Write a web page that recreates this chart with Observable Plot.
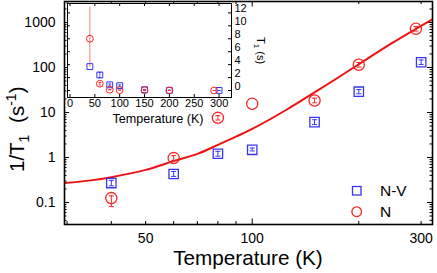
<!DOCTYPE html>
<html><head><meta charset="utf-8">
<script src="https://cdn.jsdelivr.net/npm/d3@7"></script>
<script src="https://cdn.jsdelivr.net/npm/@observablehq/plot@0.6"></script>
<style>
body{margin:0;background:#fff;}
#wrap{position:relative;width:437px;height:273px;overflow:hidden;}
#wrap svg{position:absolute;left:0;top:0;}
</style></head><body><div id="wrap"></div>
<script>
// ---- data ----
const nvTemps   = [40, 60, 80, 100, 150, 200, 300];
const nvRate    = [0.27, 0.43, 1.21, 1.48, 6.1, 29, 131];
const nvRateLo  = [0.235, 0.38, 1.07, 1.40, 5.4, 26, 117];
const nvRateHi  = [0.31, 0.49, 1.37, 1.62, 6.9, 32.5, 147];

const nTemps    = [40, 60, 80, 100, 150, 200, 290];
const nRate     = [0.125, 0.97, 7.6, 15.6, 18.5, 115, 724];
const nRateLo   = [0.081, 0.86, 6.8, null, 16.4, 102, 645];
const nRateHi   = [0.14, 1.10, 8.5, null, 20.8, 129, 810];

const fitTemps  = [29.5, 35, 40, 50, 60, 70, 80, 90, 100, 125, 150, 175, 200, 250, 290, 323];
const fitRate   = [0.27, 0.31, 0.365, 0.53, 0.83, 1.2, 1.9, 2.9, 4.3, 11.5, 28, 60, 118, 360, 725, 1180];

// inset: T1 (s)
const nvT1      = [3.7, 2.4, 0.88, 0.75, 0.12, 0.03, 0.01];
const nvT1Lo    = [3.1, 2.0, 0.72, 0.62, 0.08, 0.02, 0.005];
const nvT1Hi    = [4.4, 2.8, 1.02, 0.86, 0.16, 0.04, 0.015];
const nT1       = [8.0, 1.05, 0.13, 0.06, 0.05, 0.01, 0.0];
const nT1Lo     = [3.6, 0.85, 0.1, 0.05, 0.04, 0.008, 0.0];
const nT1Hi     = [12.9, 1.25, 0.16, 0.07, 0.06, 0.012, 0.002];

// tick labels
const xTickLabels = [50, 100, 300];
const yTickLabels = [0.1, 1, 10, 100, 1000];
const insetXTicks = [0, 50, 100, 150, 200, 250, 300];
const insetYTicks = [0, 2, 4, 6, 8, 10, 12];

// ---- style ----
const FONT = "Liberation Sans, Arial, Helvetica, sans-serif";
const BLUE = "#3535f2";
const RED = "#f52525";
const LINE_RED = "#ee1111";

const nv = nvTemps.map((T, i) => ({T, v: nvRate[i], lo: nvRateLo[i], hi: nvRateHi[i]}));
const nn = nTemps.map((T, i) => ({T, v: nRate[i], lo: nRateLo[i], hi: nRateHi[i]}));
const fit = fitTemps.map((T, i) => ({T, v: fitRate[i]}));
const nvIn = nvTemps.map((T, i) => ({T, v: nvT1[i], lo: nvT1Lo[i], hi: nvT1Hi[i]}));
const nnIn = nTemps.map((T, i) => ({T, v: nT1[i], lo: nT1Lo[i], hi: nT1Hi[i]}));

const cap = {draw(ctx, size) { const r = Math.sqrt(size / Math.PI); ctx.moveTo(-r, 0); ctx.lineTo(r, 0); }};

function errMarks(data, color, capR, sw) {
  const d = data.filter(p => p.lo != null);
  return [
    Plot.ruleX(d, {x: "T", y1: "lo", y2: "hi", stroke: color, strokeWidth: sw}),
    Plot.dot(d, {x: "T", y: "lo", symbol: cap, r: capR, stroke: color, strokeWidth: sw}),
    Plot.dot(d, {x: "T", y: "hi", symbol: cap, r: capR, stroke: color, strokeWidth: sw})
  ];
}

// ---- main chart ----
const W = 437, H = 273, mL = 64, mR = 5, mT = 1, mB = 49;
const iW = W - mL - mR, iH = H - mT - mB;
const yDom = [0.0324, 2930], xDom = [29.5, 323];
const yMinor = [];
for (let e = -2; e <= 3; e++) for (let m = 2; m <= 9; m++) { const v = m * 10 ** e; if (v > yDom[0] && v < yDom[1]) yMinor.push(+v.toPrecision(3)); }
const xMinor = [30, 40, 50, 60, 70, 80, 90, 200, 300];
const xMajor = [100];
const tk = {stroke: "black", strokeWidth: 1};

const main = Plot.plot({
  width: W, height: H, marginLeft: mL, marginRight: mR, marginTop: mT, marginBottom: mB,
  style: {fontFamily: FONT, background: "white"},
  x: {type: "log", domain: xDom, axis: null},
  y: {type: "log", domain: yDom, axis: null},
  marks: [
    Plot.ruleY(yMinor, {...tk, insetRight: iW - 2.5}),
    Plot.ruleY(yTickLabels, {...tk, insetRight: iW - 5}),
    Plot.ruleY(yMinor, {...tk, insetLeft: iW - 2.5}),
    Plot.ruleY(yTickLabels, {...tk, insetLeft: iW - 5}),
    Plot.ruleX(xMinor, {...tk, insetTop: iH - 3}),
    Plot.ruleX(xMajor, {...tk, insetTop: iH - 5.5}),
    Plot.ruleX(xMinor, {...tk, insetBottom: iH - 3}),
    Plot.ruleX(xMajor, {...tk, insetBottom: iH - 5.5}),
    Plot.text(yTickLabels, {x: null, y: d => d, text: d => String(d), frameAnchor: "left", textAnchor: "end", dx: -9, fontSize: 14, fill: "black"}),
    Plot.text(xTickLabels, {x: d => d, y: null, text: d => String(d), frameAnchor: "bottom", lineAnchor: "top", dy: 9, fontSize: 14, fill: "black"}),
    Plot.line(fit, {x: "T", y: "v", stroke: LINE_RED, strokeWidth: 2, curve: "catmull-rom", clip: true}),
    ...errMarks(nv, BLUE, 2.5, 1),
    ...errMarks(nn, RED, 2.5, 1),
    Plot.dot(nv, {x: "T", y: "v", symbol: "square", r: 5.3, stroke: BLUE, strokeWidth: 1.3}),
    Plot.dot(nn, {x: "T", y: "v", symbol: "circle", r: 5.6, stroke: RED, strokeWidth: 1.3}),
    Plot.frame({stroke: "black", strokeWidth: 1.6})
  ]
});

const s = d3.select(main);
s.append("text").attr("x", 248).attr("y", 265).attr("text-anchor", "middle")
  .attr("font-size", 20.7).attr("font-family", FONT).attr("fill", "black").text("Temperature (K)");
const yt = s.append("text").attr("transform", "translate(24,172) rotate(-90)").attr("text-anchor", "start")
  .attr("font-size", 20.5).attr("font-family", FONT).attr("fill", "black");
yt.append("tspan").text("1/T");
yt.append("tspan").attr("font-size", 14).attr("dy", 5).text("1");
yt.append("tspan").attr("dy", -5).attr("dx", 6).text(" (s");
yt.append("tspan").attr("font-size", 14).attr("dy", -8).text("-1");
yt.append("tspan").attr("dy", 8).text(")");
// legend
s.append("rect").attr("x", 352.5).attr("y", 186.5).attr("width", 8.5).attr("height", 8.5)
  .attr("fill", "none").attr("stroke", BLUE).attr("stroke-width", 1.3);
s.append("circle").attr("cx", 356.7).attr("cy", 211.7).attr("r", 4.8)
  .attr("fill", "none").attr("stroke", RED).attr("stroke-width", 1.3);
s.append("text").attr("x", 380).attr("y", 196.3).attr("font-size", 15.5).attr("font-family", FONT).attr("text-anchor", "start").attr("fill", "black").text("N-V");
s.append("text").attr("x", 380).attr("y", 217.3).attr("font-size", 15.5).attr("font-family", FONT).attr("text-anchor", "start").attr("fill", "black").text("N");

// ---- inset ----
const IW = 437, IH = 125, imL = 67, imR = 437 - 231, imT = 3, imB = IH - 97;
const iiW = IW - imL - imR, iiH = IH - imT - imB;
const inset = Plot.plot({
  width: IW, height: IH, marginLeft: imL, marginRight: imR, marginTop: imT, marginBottom: imB,
  style: {fontFamily: FONT, background: "none", overflow: "visible"},
  x: {domain: [-5, 325]},
  y: {domain: [-1.08, 13.45]},
  marks: [
    Plot.frame({fill: "white", stroke: "none"}),
    Plot.ruleX(insetXTicks, {...tk, insetTop: iiH - 3}),
    Plot.ruleX(insetXTicks, {...tk, insetBottom: iiH - 3}),
    Plot.ruleY(insetYTicks, {...tk, insetLeft: iiW - 3}),
    Plot.ruleY(insetYTicks, {...tk, insetRight: iiW - 3}),
    Plot.axisX(insetXTicks, {anchor: "bottom", tickSize: 0, tickPadding: 2, fontSize: 11, label: null, fill: "black"}),
    Plot.axisY(insetYTicks, {anchor: "right", tickSize: 0, tickPadding: 3, fontSize: 11, dy: -4, label: null, fill: "black"}),
    Plot.ruleX(nnIn.slice(0, 1), {x: "T", y1: "lo", y2: "hi", stroke: RED, strokeOpacity: 0.6, strokeWidth: 1}),
    ...errMarks(nvIn.slice(1), BLUE, 1.5, 0.8),
    ...errMarks(nnIn.slice(1), RED, 1.5, 0.8),
    Plot.dot(nvIn, {x: "T", y: "v", symbol: "square", r: 3.3, stroke: BLUE, strokeWidth: 1}),
    Plot.dot(nnIn, {x: "T", y: "v", symbol: "circle", r: 3.4, stroke: RED, strokeWidth: 1}),
    Plot.frame({stroke: "black", strokeWidth: 1})
  ]
});
const si = d3.select(inset);
si.append("text").attr("x", 158).attr("y", 122.5).attr("text-anchor", "middle")
  .attr("font-size", 12.6).attr("font-family", FONT).attr("fill", "black").text("Temperature (K)");
const it = si.append("text").attr("transform", "translate(257,37) rotate(90)").attr("text-anchor", "start")
  .attr("font-size", 11).attr("font-family", FONT).attr("fill", "black");
it.append("tspan").text("T");
it.append("tspan").attr("font-size", 8).attr("dy", 3).text("1");
it.append("tspan").attr("dy", -3).text(" (s)");

document.getElementById("wrap").append(main, inset);
</script></body></html>
